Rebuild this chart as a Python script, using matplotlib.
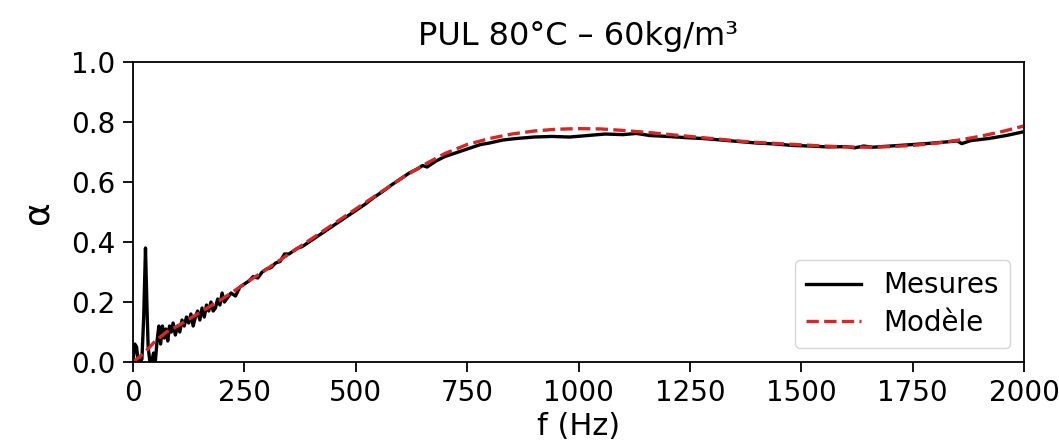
import numpy as np
import matplotlib
matplotlib.use('Agg')
import matplotlib.pyplot as plt

f_mes = [0, 4, 8, 12, 16, 20, 24, 28, 31, 34, 38, 42, 46, 50, 54, 58, 62, 66, 70, 74, 78, 82,
         86, 90, 95, 100, 105, 110, 115, 120, 125, 130, 135, 140, 145, 150, 155, 160, 165, 170,
         175, 180, 185, 190, 195, 200, 205, 210, 220, 230, 240, 250, 260, 270, 280, 290, 300,
         310, 320, 330, 340, 350, 360, 370, 380, 390, 400, 420, 440, 460, 480, 500, 520, 540,
         560, 580, 600, 620, 640, 650, 660, 670, 680, 700, 720, 740, 760, 780, 800, 830, 860,
         900, 940, 980, 1020, 1060, 1100, 1130, 1160, 1200, 1240, 1280, 1320, 1360, 1400,
         1440, 1480, 1520, 1560, 1600, 1620, 1640, 1660, 1700, 1740, 1780, 1820, 1850, 1860,
         1880, 1920, 1960, 2000]
a_mes = [0.0, 0.06, 0.05, 0.0, 0.0, 0.01, 0.15, 0.38, 0.2, 0.05, 0.0, 0.0, 0.03, 0.0, 0.07,
         0.12, 0.06, 0.12, 0.08, 0.11, 0.07, 0.12, 0.10, 0.13, 0.09, 0.12, 0.1, 0.14, 0.12,
         0.15, 0.13, 0.16, 0.12, 0.15, 0.17, 0.14, 0.18, 0.15, 0.19, 0.17, 0.20, 0.17, 0.18,
         0.21, 0.19, 0.23, 0.20, 0.21, 0.23, 0.22, 0.25, 0.26, 0.27, 0.285, 0.28, 0.30, 0.31,
         0.315, 0.33, 0.335, 0.36, 0.36, 0.37, 0.38, 0.385, 0.395, 0.405, 0.425, 0.445, 0.465,
         0.485, 0.505, 0.525, 0.548, 0.568, 0.59, 0.61, 0.63, 0.645, 0.655, 0.65, 0.66, 0.67,
         0.685, 0.695, 0.705, 0.715, 0.725, 0.73, 0.74, 0.745, 0.75, 0.752, 0.75, 0.755, 0.76,
         0.758, 0.762, 0.755, 0.752, 0.748, 0.745, 0.74, 0.735, 0.73, 0.727, 0.722, 0.72,
         0.717, 0.718, 0.714, 0.72, 0.716, 0.72, 0.724, 0.728, 0.733, 0.737, 0.728, 0.738,
         0.745, 0.755, 0.768]

# Modèle
f_mod = [0, 25, 50, 75, 100, 150, 200, 250, 300, 350, 400, 450, 500, 550, 600, 650, 700,
         750, 800, 850, 900, 950, 1000, 1050, 1100, 1150, 1200, 1250, 1300, 1350, 1400, 1450,
         1500, 1550, 1600, 1650, 1700, 1750, 1800, 1850, 1900, 1950, 2000]
a_mod = [0.0, 0.03, 0.07, 0.1, 0.12, 0.165, 0.21, 0.26, 0.31, 0.36, 0.41, 0.46, 0.51, 0.56,
         0.61, 0.655, 0.695, 0.725, 0.745, 0.76, 0.77, 0.776, 0.778, 0.777, 0.772, 0.766,
         0.759, 0.752, 0.745, 0.738, 0.732, 0.728, 0.724, 0.72, 0.717, 0.716, 0.718, 0.722,
         0.729, 0.739, 0.752, 0.768, 0.787]

fig = plt.figure(figsize=(10.59, 4.46), dpi=100)
ax = fig.add_axes([0.1256, 0.1883, 0.8414, 0.6726])
ax.plot(f_mes, a_mes, color='black', lw=2.4, label='Mesures')
ax.plot(f_mod, a_mod, color='#d62728', lw=2.4, ls='--', label='Modèle')
ax.set_xlim(0, 2000)
ax.set_ylim(0, 1)
ax.set_xticks([0, 250, 500, 750, 1000, 1250, 1500, 1750, 2000])
ax.set_yticks([0.0, 0.2, 0.4, 0.6, 0.8, 1.0])
for s in ax.spines.values():
    s.set_linewidth(1.3)
ax.tick_params(labelsize=20, length=7.5, width=1.3, pad=5)
ax.set_xlabel('f (Hz)', fontsize=22, labelpad=3)
ax.set_ylabel('α', fontsize=26, labelpad=12)
ax.set_title('PUL 80°C – 60kg/m³', fontsize=23, pad=12)
ax.legend(loc='lower right', fontsize=20, handlelength=2.0, labelspacing=0.35)
fig.savefig('out.png', dpi=100)
